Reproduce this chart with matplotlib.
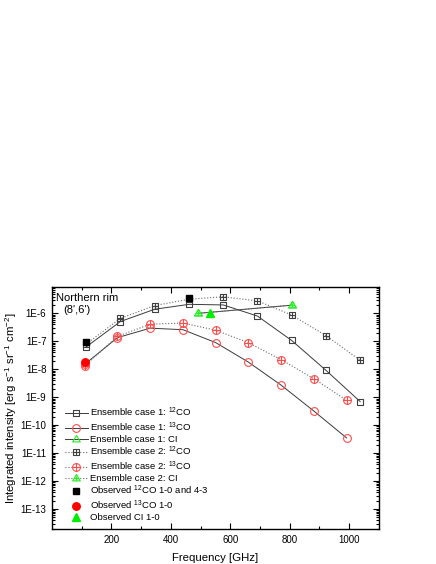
import numpy as np
import matplotlib
matplotlib.use("Agg")
import matplotlib.pyplot as plt
from matplotlib.path import Path
from matplotlib.ticker import FixedLocator, LogLocator, NullFormatter, FuncFormatter

plt.rcParams["font.family"] = ["Liberation Sans", "DejaVu Sans"]
plt.rcParams["mathtext.default"] = "regular"

# line frequencies [GHz]
freq_12co = [115.3, 230.5, 345.8, 461.0, 576.3, 691.5, 806.7, 921.8, 1036.9]
freq_13co = [110.2, 220.4, 330.6, 440.8, 551.0, 661.1, 771.2, 881.3, 991.3]
freq_ci = [492.2, 809.3]

# ensemble model results [erg s^-1 sr^-1 cm^-2]
case1_12co = [6.3e-8, 5.1e-7, 1.4e-6, 2.1e-6, 2.0e-6, 8.0e-7, 1.07e-7, 9.2e-9, 7.0e-10]
case1_13co = [1.5e-8, 1.35e-7, 2.95e-7, 2.6e-7, 9.0e-8, 1.8e-8, 2.7e-9, 3.2e-10, 3.5e-11]
case1_ci = [1.0e-6, 1.97e-6]
case2_12co = [8.0e-8, 6.6e-7, 1.9e-6, 3.2e-6, 3.9e-6, 2.8e-6, 8.7e-7, 1.6e-7, 2.1e-8]
case2_13co = [1.3e-8, 1.5e-7, 4.1e-7, 4.5e-7, 2.5e-7, 8.9e-8, 2.2e-8, 4.6e-9, 7.8e-10]
case2_ci = [1.0e-6, 1.97e-6]

# observations
obs_12co_freq = [115.3, 461.0]
obs_12co = [9.5e-8, 3.4e-6]
obs_13co_freq = [110.2]
obs_13co = [1.8e-8]
obs_ci_freq = [532.0]
obs_ci = [1.0e-6]


def crossed(base):
    # base marker outline with a "+" drawn inside
    verts = list(base.vertices)
    codes = list(base.codes) if base.codes is not None else \
        [Path.MOVETO] + [Path.LINETO] * (len(verts) - 1)
    verts += [(-1, 0), (1, 0), (0, -1), (0, 1)]
    codes += [Path.MOVETO, Path.LINETO, Path.MOVETO, Path.LINETO]
    return Path(verts, codes)


sq = Path([(-1, -1), (1, -1), (1, 1), (-1, 1), (-1, -1)],
          [Path.MOVETO, Path.LINETO, Path.LINETO, Path.LINETO, Path.CLOSEPOLY])
circ = Path.unit_circle()
tri = Path([(0, 1), (-0.95, -0.6), (0.95, -0.6), (0, 1)],
           [Path.MOVETO, Path.LINETO, Path.LINETO, Path.CLOSEPOLY])
tri_plus = Path(list(tri.vertices) + [(-0.5, -0.05), (0.5, -0.05), (0, -0.6), (0, 0.5)],
                list(tri.codes) + [Path.MOVETO, Path.LINETO, Path.MOVETO, Path.LINETO])

c_line1 = "#3a3a3a"
c_line2 = "#6a6a6a"
c_gray = "#404040"
c_red = "#ff4d4d"
c_green = "#22ee22"

fig = plt.figure(figsize=(4.36, 5.64), dpi=100)
ax = fig.add_axes([0.119, 0.062, 0.750, 0.429])

ms = 5.0
ax.plot(freq_12co, case1_12co, "-", color=c_line1, lw=0.7, marker=sq, ms=ms,
        mfc="none", mec=c_gray, mew=0.8, label="Ensemble case 1: $^{12}$CO")
ax.plot(freq_13co, case1_13co, "-", color=c_line1, lw=0.7, marker="o", ms=ms + 0.6,
        mfc="none", mec=c_red, mew=0.8, label="Ensemble case 1: $^{13}$CO")
ax.plot(freq_ci, case1_ci, "-", color=c_line1, lw=0.7, marker=tri, ms=ms + 0.8,
        mfc="none", mec=c_green, mew=0.8, label="Ensemble case 1: CI")
ax.plot(freq_12co, case2_12co, ":", color=c_line2, lw=0.8, marker=crossed(sq), ms=ms,
        mfc="none", mec=c_gray, mew=0.8, label="Ensemble case 2: $^{12}$CO")
ax.plot(freq_13co, case2_13co, ":", color=c_line2, lw=0.8, marker=crossed(circ), ms=ms + 0.6,
        mfc="none", mec=c_red, mew=0.8, label="Ensemble case 2: $^{13}$CO")
ax.plot(freq_ci, case2_ci, ":", color=c_line2, lw=0.8, marker=tri_plus, ms=ms + 0.8,
        mfc="none", mec=c_green, mew=0.8, label="Ensemble case 2: CI")
ax.plot(obs_12co_freq, obs_12co, "s", color="black", ms=4.6, ls="none",
        label="Observed $^{12}$CO 1-0 and 4-3")
ax.plot(obs_13co_freq, obs_13co, "o", color="red", ms=5.4, ls="none",
        label="Observed $^{13}$CO 1-0")
ax.plot(obs_ci_freq, obs_ci, "^", color="#00ee00", ms=5.4, ls="none",
        label="Observed CI 1-0")

ax.set_yscale("log")
ax.set_xlim(0, 1100)
ax.set_ylim(1.93e-14, 8.7e-6)

ax.xaxis.set_major_locator(FixedLocator([200, 400, 600, 800, 1000]))
ax.xaxis.set_minor_locator(FixedLocator(np.arange(100, 1100, 200)))
ax.yaxis.set_major_locator(LogLocator(base=10, numticks=20))
ax.yaxis.set_minor_locator(LogLocator(base=10, subs=np.arange(2, 10), numticks=40))
ax.yaxis.set_minor_formatter(NullFormatter())
ax.yaxis.set_major_formatter(FuncFormatter(lambda v, p: "1E%d" % round(np.log10(v))))

ax.tick_params(which="both", direction="in", top=True, right=True, labelsize=7, width=0.8)
ax.tick_params(which="major", length=4, pad=4)
ax.tick_params(which="minor", length=2)
for s in ax.spines.values():
    s.set_linewidth(1.0)

ax.set_xlabel("Frequency [GHz]", fontsize=8.2, labelpad=6)
ax.set_ylabel("Integrated intensity [erg s$^{-1}$ sr$^{-1}$ cm$^{-2}$]", fontsize=8.2, labelpad=1)

ax.text(0.013, 0.955, "Northern rim", transform=ax.transAxes, fontsize=8, va="center")
ax.text(0.034, 0.905, "(8',6')", transform=ax.transAxes, fontsize=8, va="center")

leg = ax.legend(loc="upper left", bbox_to_anchor=(0.02, 0.535), frameon=False,
                fontsize=6.8, numpoints=1, handlelength=2.4, handletextpad=0.2,
                labelspacing=0.12, borderpad=0.2)

fig.savefig("out.png", dpi=100)
